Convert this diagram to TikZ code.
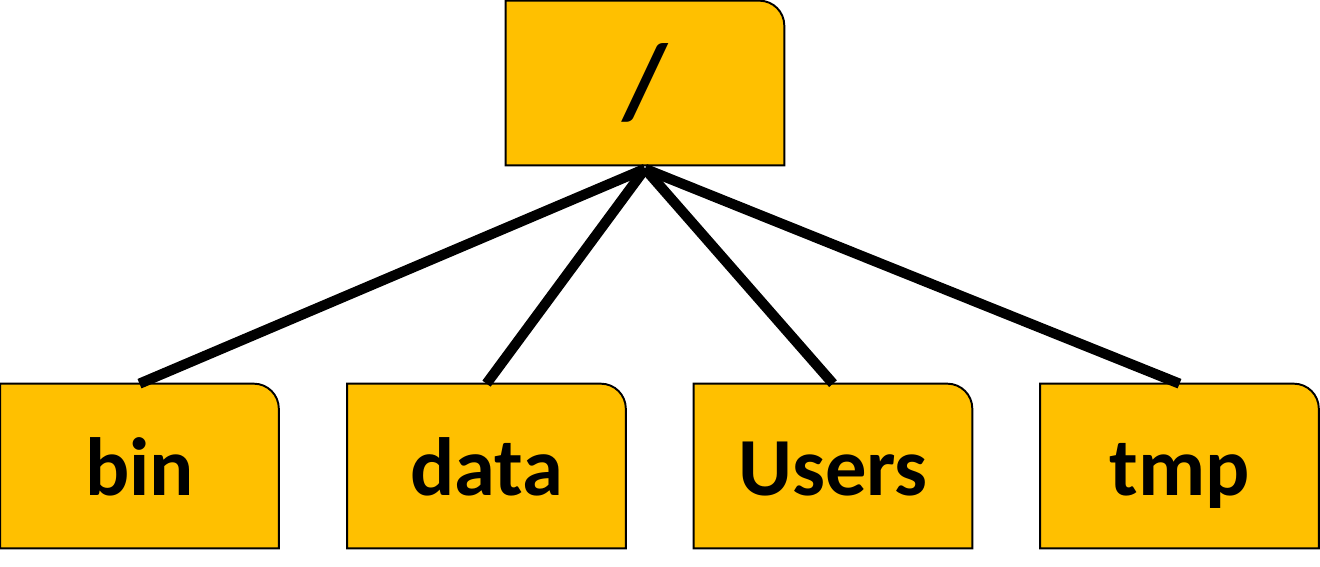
\documentclass[tikz,border=0pt]{standalone}
\usepackage{fontspec}
\setmainfont{Carlito}
\usepackage{tikz}
\usetikzlibrary{positioning,backgrounds}
\definecolor{foldergold}{RGB}{255, 192, 0}

\begin{document}
\begin{tikzpicture}[
    x=0.02cm, y=-0.02cm,
    folder/.style={
        minimum width=5.56cm,
        minimum height=3.28cm,
        inner sep=0pt,
        font=\fontsize{47}{54}\selectfont\bfseries
    },
    leaf/.style={folder, text height=34pt, text depth=0pt},
    folderedge/.style={draw=black, line width=1.1pt, fill=foldergold},
    branch/.style={line width=5.8pt, black}
]
\useasboundingbox (0,0) rectangle (1320,567);

% directories
\node [folder, font=\fontsize{60}{66}\selectfont\bfseries] (root) at (645,83) {/};
\node [leaf] (bin) at (139.5,466) {bin};
\node [leaf] (data) at (486.5,466) {data};
\node [leaf] (users) at (833,466) {Users};
\node [leaf] (tmp) at (1179.5,466) {tmp};

% folder outlines, only the top right corner is round
\begin{scope}[on background layer]
\foreach \n in {root,bin,data,users,tmp}
    \draw [folderedge] (\n.south west) -- (\n.north west)
        -- ([xshift=-0.5cm]\n.north east)
        arc [start angle=90, end angle=0, radius=0.5cm]
        -- (\n.south east) -- cycle;
\end{scope}

% links
\foreach \c in {bin,data,users,tmp}
    \draw [branch] ([yshift=-2pt]root.south) -- (\c.north);
\end{tikzpicture}
\end{document}
